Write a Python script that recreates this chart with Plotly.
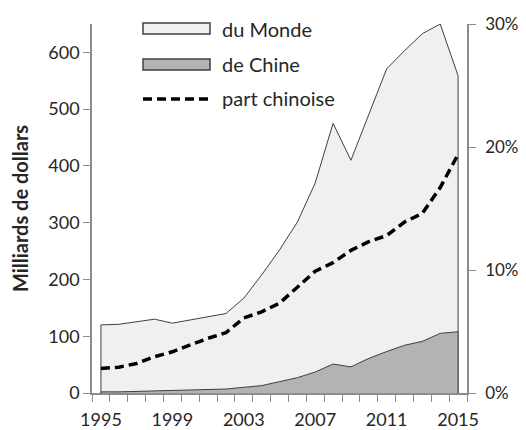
"""Exportations mondiales et chinoises, 1995-2015."""

import plotly.graph_objects as go

YEARS = list(range(1995, 2016))

# Milliards de dollars
MONDE = [120, 121, 125, 130, 123, 129, 134, 140, 167, 208, 252, 301, 370, 475, 410,
         489, 571, 603, 633, 650, 559]
CHINE = [2, 2, 3, 4, 4, 5, 6, 7, 10, 13, 20, 27, 37, 51, 46, 61, 73, 84, 91, 105, 108]

# Part chinoise en %
PART = [2.0, 2.1, 2.4, 2.95, 3.35, 3.9, 4.45, 4.9, 6.1, 6.6, 7.3, 8.6, 9.9, 10.6,
        11.6, 12.3, 12.8, 13.9, 14.6, 16.7, 19.4]

X_TICKS = [1995, 1999, 2003, 2007, 2011, 2015]
Y_TICKS = [0, 100, 200, 300, 400, 500, 600]
Y2_TICKS = [0, 10, 20, 30]

FONT = "Lato"
TXT = "#262626"
AXIS = "#8c8c8c"
FILL_MONDE = "#f0f0f0"
FILL_CHINE = "#b3b3b3"
EDGE = "#404040"

# la page html ajoute une marge de 8 px autour du graphique
OFF = 8


def closed(vals):
    # polygone ferme sur la ligne de base, comme une aire Excel
    return [YEARS[0]] + YEARS + [YEARS[-1]], [0] + vals + [0]


fig = go.Figure()

x, y = closed(MONDE)
fig.add_trace(go.Scatter(x=x, y=y, fill="toself", fillcolor=FILL_MONDE,
                         line=dict(color=EDGE, width=1), mode="lines",
                         showlegend=False, hoverinfo="skip"))
x, y = closed(CHINE)
fig.add_trace(go.Scatter(x=x, y=y, fill="toself", fillcolor=FILL_CHINE,
                         line=dict(color=EDGE, width=1), mode="lines",
                         showlegend=False, hoverinfo="skip"))
fig.add_trace(go.Scatter(x=YEARS, y=PART, yaxis="y2", mode="lines",
                         line=dict(color="black", width=3.5, dash="9px,5px"),
                         showlegend=False))
# trace invisible pour porter les etiquettes d'annees (axe x2)
fig.add_trace(go.Scatter(x=X_TICKS, y=[0] * len(X_TICKS), xaxis="x2", mode="markers",
                         marker=dict(opacity=0), showlegend=False, hoverinfo="skip"))

# Legende dessinee a la main (symboles larges comme dans l'original)
L, T = 92, 24
W, H = 375, 369


def px_x(p):
    return (p - L) / W


def px_y(p):
    return (T + H - p) / H


shapes = [
    dict(type="rect", xref="paper", yref="paper", x0=px_x(143), x1=px_x(210),
         y0=px_y(34), y1=px_y(23), fillcolor=FILL_MONDE, line=dict(color=EDGE, width=1.5)),
    dict(type="rect", xref="paper", yref="paper", x0=px_x(143), x1=px_x(210),
         y0=px_y(70), y1=px_y(59), fillcolor=FILL_CHINE, line=dict(color=EDGE, width=1.5)),
    dict(type="line", xref="paper", yref="paper", x0=px_x(143), x1=px_x(210),
         y0=px_y(99), y1=px_y(99), line=dict(color="black", width=3.5, dash="9px,5px")),
]
labels = [("du Monde", 29), ("de Chine", 64), ("part chinoise", 98)]
annotations = [
    dict(text=t, xref="paper", yref="paper", x=px_x(220), y=px_y(yy), xanchor="left",
         yanchor="middle", showarrow=False, font=dict(size=20, color=TXT, family=FONT))
    for t, yy in labels
]

half_years = [y - 0.5 for y in YEARS] + [YEARS[-1] + 0.5]

fig.update_layout(
    width=526 - OFF, height=430 - OFF,
    margin=dict(l=L - OFF, r=526 - L - W, t=T - OFF, b=430 - T - H),
    plot_bgcolor="white", paper_bgcolor="white",
    font=dict(family=FONT, size=18, color=TXT),
    shapes=shapes, annotations=annotations,
    xaxis=dict(range=[1994.5, 2015.5], tickvals=half_years,
               ticktext=[""] * len(half_years), ticks="outside", ticklen=7,
               tickcolor=AXIS, showgrid=False, zeroline=False, showline=True,
               linecolor=AXIS, linewidth=1.5, automargin=False),
    # ticks invisibles pour descendre les etiquettes
    xaxis2=dict(range=[1994.5, 2015.5], overlaying="x", side="bottom",
                tickvals=X_TICKS, ticks="outside", ticklen=10,
                tickcolor="rgba(0,0,0,0)", showgrid=False, zeroline=False,
                showline=False, automargin=False),
    yaxis=dict(range=[0, 650], tickvals=Y_TICKS,
               ticks="outside", ticklen=7, tickcolor=AXIS, showgrid=False,
               zeroline=False, showline=True, linecolor=AXIS, linewidth=1.5,
               automargin=False,
               title=dict(text="<b>Milliards de dollars</b>", standoff=14,
                          font=dict(size=20))),
    yaxis2=dict(range=[0, 30], overlaying="y", side="right", tickvals=Y2_TICKS,
                ticktext=[f"{v}%" for v in Y2_TICKS], ticks="outside", ticklen=7,
                tickcolor=AXIS, showgrid=False, zeroline=False, showline=True,
                linecolor=AXIS, linewidth=1.5, ticklabelstandoff=6,
                tickfont=dict(size=17), automargin=False),
)

fig.write_html("out.html")
